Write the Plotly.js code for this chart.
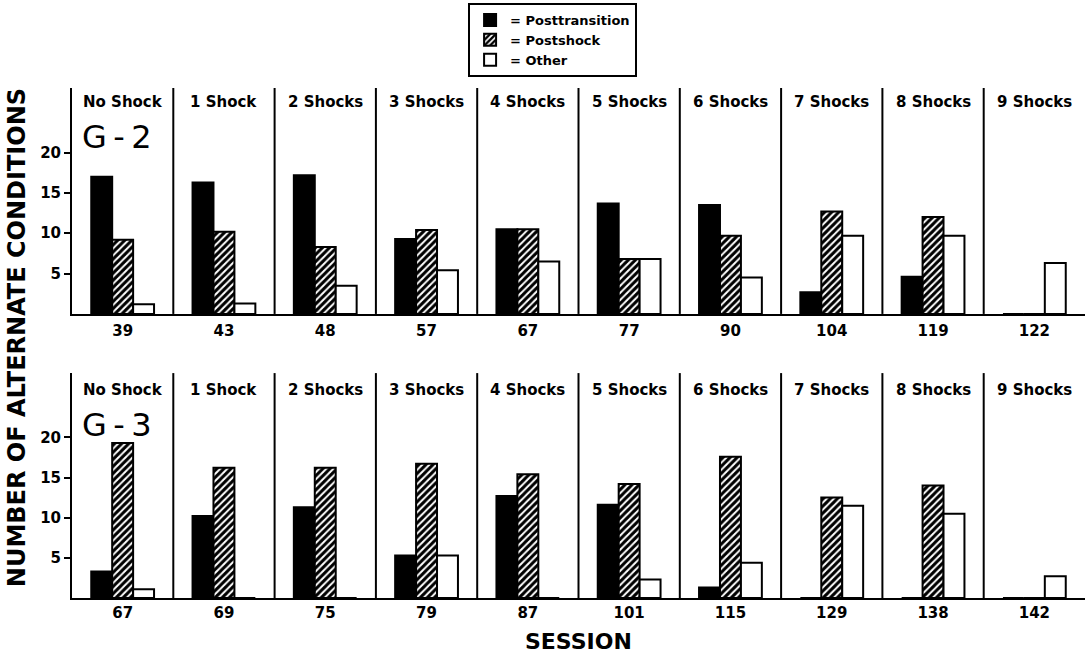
<!DOCTYPE html>
<html>
<head>
<meta charset="utf-8">
<script src="https://cdn.plot.ly/plotly-3.0.1.min.js"></script>
<style>html,body{margin:0;padding:0;background:#fff;}#chart{width:1092px;height:656px;}</style>
</head>
<body>
<div id="chart"></div>
<script>
// ---- data ----
const conditions = ['No Shock','1 Shock','2 Shocks','3 Shocks','4 Shocks','5 Shocks','6 Shocks','7 Shocks','8 Shocks','9 Shocks'];
const sessionsG2 = ['39','43','48','57','67','77','90','104','119','122'];
const sessionsG3 = ['67','69','75','79','87','101','115','129','138','142'];
const g2Posttransition = [17.0, 16.3, 17.2, 9.3, 10.5, 13.7, 13.5, 2.7, 4.6, 0];
const g2Postshock      = [9.2, 10.2, 8.3, 10.4, 10.5, 6.8, 9.7, 12.7, 12.0, 0];
const g2Other          = [1.2, 1.3, 3.5, 5.4, 6.5, 6.8, 4.5, 9.7, 9.7, 6.3];
const g3Posttransition = [3.3, 10.2, 11.3, 5.3, 12.7, 11.6, 1.3, 0, 0, 0];
const g3Postshock      = [19.3, 16.2, 16.2, 16.7, 15.4, 14.2, 17.6, 12.5, 14.0, 0];
const g3Other          = [1.1, 0, 0, 5.3, 0, 2.3, 4.4, 11.5, 10.5, 2.7];
const seriesNames = ['= Posttransition', '= Postshock', '= Other'];
const yTicks = [5, 10, 15, 20];
const panelLabels = ['G\u2009-\u20092', 'G\u2009-\u20093'];
const axisTitleY = 'NUMBER OF ALTERNATE CONDITIONS';
const axisTitleX = 'SESSION';

// ---- styles ----
const FONT = 'DejaVu Sans';
const lineStyle = {color: '#000', width: 2};
const styles = [
  {color: '#000', line: lineStyle},
  {color: '#fff', line: lineStyle, pattern: {shape: '/', fgcolor: '#000', bgcolor: '#fff', size: 5, solidity: 0.6}},
  {color: '#fff', line: lineStyle}
];

function makeTraces(sessions, vals, xa, ya, showLegend) {
  return vals.map((v, i) => ({
    type: 'bar', x: sessions, y: v, name: seriesNames[i],
    xaxis: xa, yaxis: ya, showlegend: showLegend, legendgroup: 's' + i,
    marker: styles[i], hoverinfo: 'x+y'
  }));
}

const data = [
  ...makeTraces(sessionsG2, [g2Posttransition, g2Postshock, g2Other], 'x', 'y', true),
  ...makeTraces(sessionsG3, [g3Posttransition, g3Postshock, g3Other], 'x2', 'y2', false)
];

const YMAX = 28;
const shapes = [];
['y', 'y2'].forEach((yr, k) => {
  const xr = k === 0 ? 'x' : 'x2';
  for (let i = 1; i < conditions.length; i++) {
    shapes.push({type: 'line', xref: xr, yref: yr, x0: i - 0.5, x1: i - 0.5, y0: 0, y1: YMAX, line: {color: '#000', width: 2}});
  }
});

const labelY = [26.3, 25.9];
const panelY = [21.9, 21.6];
const annotations = [];
['y', 'y2'].forEach((yr, k) => {
  const xr = k === 0 ? 'x' : 'x2';
  conditions.forEach((c, i) => {
    annotations.push({xref: xr, yref: yr, x: i, y: labelY[k], text: c, showarrow: false,
      font: {family: FONT, size: 15, color: '#000', weight: 'bold'}, xanchor: 'center', yanchor: 'middle'});
  });
  annotations.push({xref: xr, yref: yr, x: -0.06, y: panelY[k], text: panelLabels[k], showarrow: false,
    font: {family: FONT, size: 32, color: '#000'}, xanchor: 'center', yanchor: 'middle'});
});
annotations.push({xref: 'paper', yref: 'paper', x: -0.054, y: 0.51, text: axisTitleY, textangle: -90, showarrow: false,
  font: {family: FONT, size: 24, color: '#000', weight: 'bold'}, xanchor: 'center', yanchor: 'middle'});
annotations.push({xref: 'paper', yref: 'paper', x: 0.5, y: -0.086, text: axisTitleX, showarrow: false,
  font: {family: FONT, size: 22, color: '#000', weight: 'bold'}, xanchor: 'center', yanchor: 'middle'});

const xCommon = {type: 'category', range: [-0.5, 9.5], showline: true, linecolor: '#000', linewidth: 2,
  ticks: '', showgrid: false, zeroline: false, fixedrange: true,
  tickfont: {family: FONT, size: 15, color: '#000', weight: 'bold'}};
const yCommon = {range: [0, YMAX], tickvals: yTicks, ticks: 'outside', ticklen: 6, tickwidth: 2, tickcolor: '#000',
  showline: true, linecolor: '#000', linewidth: 2, showgrid: false, zeroline: false, fixedrange: true,
  tickfont: {family: FONT, size: 15, color: '#000', weight: 'bold'}};

const layout = {
  width: 1092, height: 656,
  margin: {l: 72, r: 7, t: 88, b: 58, autoexpand: false},
  paper_bgcolor: '#fff', plot_bgcolor: '#fff',
  barmode: 'group', bargap: 0.38, bargroupgap: 0,
  xaxis: Object.assign({}, xCommon, {anchor: 'y', ticklabelstandoff: 2}),
  xaxis2: Object.assign({}, xCommon, {anchor: 'y2', ticklabelstandoff: 0}),
  yaxis: Object.assign({}, yCommon, {domain: [0.557, 1], anchor: 'x'}),
  yaxis2: Object.assign({}, yCommon, {domain: [0, 0.441], anchor: 'x2'}),
  shapes: shapes,
  annotations: annotations,
  showlegend: true,
  legend: {x: 0.391, y: 1.1667, xanchor: 'left', yanchor: 'top', orientation: 'v',
    bordercolor: '#000', borderwidth: 2, bgcolor: '#fff',
    font: {family: FONT, size: 13, color: '#000', weight: 'bold'}, tracegroupgap: 0, itemwidth: 30}
};

Plotly.newPlot('chart', data, layout, {displayModeBar: false, staticPlot: true});
</script>
</body>
</html>
